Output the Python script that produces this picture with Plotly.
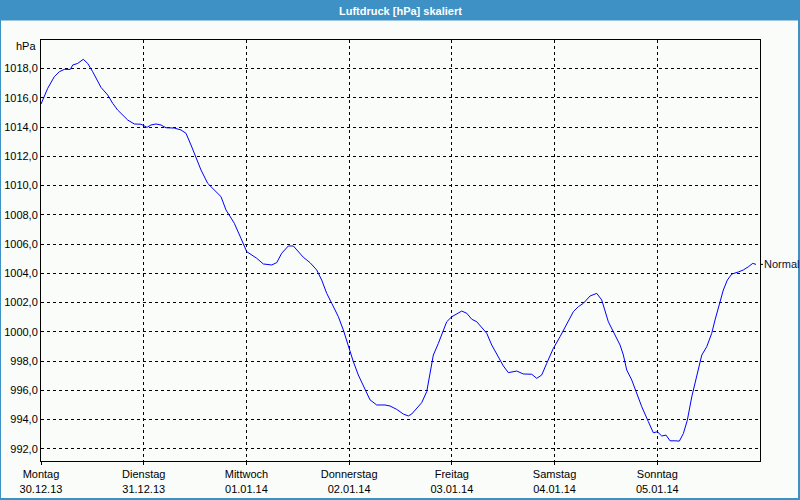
import pandas as pd
import plotly.graph_objects as go

# ---- data -------------------------------------------------------------
hours = [0.0, 1.57, 3.11, 4.28, 5.44, 6.85, 7.41, 8.58, 9.88, 10.91, 12.08, 12.85, 14.02, 15.59,
         16.75, 17.92, 19.09, 20.26, 21.80, 23.37, 24.77, 25.70, 26.87, 28.04, 29.21, 31.15,
         32.71, 33.88, 35.05, 36.22, 37.39, 38.95, 40.50, 42.06, 43.23, 44.40, 45.17, 46.73,
         48.07, 50.40, 51.95, 53.91, 55.08, 56.24, 57.79, 58.96, 60.12, 61.29, 62.86, 64.42,
         65.59, 66.76, 67.93, 69.47, 70.64, 71.81, 72.98, 74.14, 75.71, 76.88, 78.44, 80.38,
         81.55, 83.12, 84.66, 85.83, 86.62, 87.79, 88.96, 90.13, 90.90, 91.67, 92.84, 94.01,
         94.80, 95.97, 97.14, 98.31, 99.48, 100.65, 101.82, 102.98, 104.15, 105.32, 106.86,
         108.03, 109.20, 111.16, 112.70, 114.66, 115.83, 117.00, 118.17, 119.71, 121.28,
         122.84, 124.39, 125.56, 126.72, 128.29, 129.85, 131.02, 131.79, 132.56, 133.73,
         135.30, 136.07, 136.86, 138.03, 139.20, 140.37, 141.91, 143.08, 144.02, 145.04,
         146.05, 146.98, 148.15, 149.15, 150.09, 151.02, 152.05, 153.22, 154.39, 155.55,
         156.72, 157.49, 158.50, 159.43, 160.37, 161.40, 162.94, 164.11, 165.28, 166.31, 167.07]
pressure = [1015.57, 1016.65, 1017.44, 1017.78, 1017.94, 1017.94, 1018.24, 1018.35, 1018.63,
            1018.35, 1017.78, 1017.33, 1016.71, 1016.19, 1015.62, 1015.16, 1014.82, 1014.48,
            1014.21, 1014.19, 1013.98, 1014.14, 1014.21, 1014.14, 1013.95, 1013.93, 1013.80,
            1013.57, 1012.77, 1011.97, 1011.06, 1010.15, 1009.70, 1009.24, 1008.33, 1007.76,
            1007.42, 1006.39, 1005.48, 1005.03, 1004.64, 1004.57, 1004.73, 1005.37, 1005.87,
            1005.87, 1005.48, 1005.10, 1004.73, 1004.23, 1003.54, 1002.63, 1001.95, 1001.04,
            1000.13, 999.02, 997.96, 997.05, 996.14, 995.35, 995.00, 995.00, 994.93, 994.70,
            994.38, 994.25, 994.38, 994.77, 995.16, 995.91, 997.17, 998.41, 999.21, 1000.13,
            1000.69, 1001.03, 1001.20, 1001.42, 1001.27, 1000.86, 1000.69, 1000.31, 999.90,
            999.10, 998.26, 997.67, 997.21, 997.32, 997.12, 997.10, 996.82, 997.05, 997.85,
            998.87, 999.67, 1000.58, 1001.38, 1001.72, 1001.95, 1002.45, 1002.63, 1002.18,
            1001.49, 1000.69, 1000.01, 999.10, 998.42, 997.39, 996.71, 995.80, 994.88, 993.86,
            993.10, 993.17, 992.88, 992.94, 992.55, 992.55, 992.53, 993.05, 993.96, 995.55,
            996.92, 998.41, 998.98, 999.90, 1000.81, 1001.95, 1002.86, 1003.54, 1003.95,
            1004.09, 1004.23, 1004.45, 1004.68, 1004.61]
day_names = ["Montag", "Dienstag", "Mittwoch", "Donnerstag", "Freitag", "Samstag", "Sonntag"]
day_dates = ["30.12.13", "31.12.13", "01.01.14", "02.01.14", "03.01.14", "04.01.14", "05.01.14"]
y_ticks = [992, 994, 996, 998, 1000, 1002, 1004, 1006, 1008, 1010, 1012, 1014, 1016, 1018]
series_name = "Normal"
title_text = "Luftdruck [hPa] skaliert"
unit_text = "hPa"

# ---- figure -----------------------------------------------------------
start = pd.Timestamp("2013-12-30")
times = start + pd.to_timedelta(hours, unit="h")
tick_days = [start + pd.Timedelta(days=i) for i in range(len(day_names))]
tick_text = [f"{n}<br>{d}" for n, d in zip(day_names, day_dates)]

W, H = 800, 500
ML, MR, MT, MB = 41, 40, 40, 39
PW, PH = W - ML - MR, H - MT - MB


def px(xp):
    return (xp - ML) / PW


def py(yp):
    return (H - MB - yp) / PH


BG = "#fafcf9"
BLUE = "#3d91c5"

fig = go.Figure()
fig.add_trace(go.Scatter(x=times, y=pressure, mode="lines", name=series_name,
                         line=dict(color="#0000ff", width=1)))

fig.update_layout(
    width=W, height=H,
    margin=dict(l=ML, r=MR, t=MT, b=MB, autoexpand=False),
    paper_bgcolor=BG, plot_bgcolor=BG,
    showlegend=False,
    separators=",.",
    font=dict(family="Liberation Sans, Arial, sans-serif", size=11, color="#000000"),
)

fig.update_xaxes(
    type="date", automargin=False,
    range=[start, start + pd.Timedelta(days=7)],
    tickvals=tick_days, ticktext=tick_text,
    ticks="outside", ticklen=3, tickcolor="#000000",
    showgrid=True, gridcolor="#000000", gridwidth=1, griddash="3px,3px",
    showline=True, linecolor="#000000", linewidth=1, mirror=True,
    zeroline=False,
)
fig.update_yaxes(
    automargin=False,
    range=[991.17, 1019.95],
    tickvals=y_ticks, tickformat=".1f",
    ticks="",
    showgrid=True, gridcolor="#000000", gridwidth=1, griddash="3px,3px",
    showline=True, linecolor="#000000", linewidth=1, mirror=True,
    zeroline=False,
)

shapes = [
    # title bar
    dict(type="rect", xref="paper", yref="paper", x0=px(0), x1=px(W), y0=py(20.5), y1=py(0),
         fillcolor=BLUE, line=dict(width=0), layer="above"),
    # window border
    dict(type="line", xref="paper", yref="paper", x0=px(0.5), x1=px(0.5), y0=py(H), y1=py(0),
         line=dict(color=BLUE, width=1), layer="above"),
    dict(type="line", xref="paper", yref="paper", x0=px(W - 1), x1=px(W - 1), y0=py(H), y1=py(0),
         line=dict(color=BLUE, width=2), layer="above"),
    dict(type="line", xref="paper", yref="paper", x0=px(0), x1=px(W), y0=py(H - 1), y1=py(H - 1),
         line=dict(color=BLUE, width=2), layer="above"),
    # small marker tick for the series label
    dict(type="line", xref="paper", yref="y", x0=1, x1=px(ML + PW + 3),
         y0=pressure[-1], y1=pressure[-1], line=dict(color="#000000", width=1, dash="dot")),
]
fig.update_layout(shapes=shapes)

fig.add_annotation(text=f"<b>{title_text}</b>", xref="paper", yref="paper",
                   x=px(W / 2), y=py(10.5), xanchor="center", yanchor="middle",
                   showarrow=False,
                   font=dict(family="Liberation Sans Narrow, Liberation Sans, Arial", size=11,
                             color="#ffffff"))
fig.add_annotation(text=unit_text, xref="paper", yref="paper",
                   x=px(38), y=py(46), xanchor="right", yanchor="middle",
                   showarrow=False, font=dict(size=11, color="#000000"))
fig.add_annotation(text=series_name, xref="paper", yref="y",
                   x=1, y=pressure[-1], xshift=2, xanchor="left", yanchor="middle",
                   showarrow=False, font=dict(size=11, color="#101030"))

fig.write_html("out.html")
